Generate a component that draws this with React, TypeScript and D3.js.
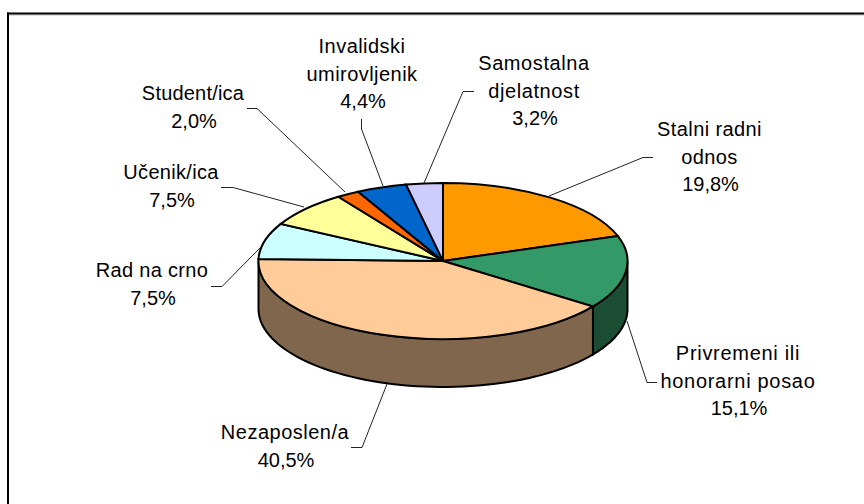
import * as d3 from 'd3';

const categories = [
  'Stalni radni odnos',
  'Privremeni ili honorarni posao',
  'Nezaposlen/a',
  'Rad na crno',
  'Učenik/ica',
  'Student/ica',
  'Invalidski umirovljenik',
  'Samostalna djelatnost',
];
const values = [19.8, 15.1, 40.5, 7.5, 7.5, 2.0, 4.4, 3.2];
const colors = ['#FF9900', '#339966', '#FFCC99', '#CCFFFF', '#FFFF99', '#FF6600', '#0066CC', '#CCCCFF'];
const sideColors = ['#805000', '#1A4D33', '#80664D', '#668080', '#80804D', '#803300', '#003366', '#666680'];
const labelLines = [
  ['Stalni radni', 'odnos'],
  ['Privremeni ili', 'honorarni posao'],
  ['Nezaposlen/a'],
  ['Rad na crno'],
  ['Učenik/ica'],
  ['Student/ica'],
  ['Invalidski', 'umirovljenik'],
  ['Samostalna', 'djelatnost'],
];
const percentLabels = ['19,8%', '15,1%', '40,5%', '7,5%', '7,5%', '2,0%', '4,4%', '3,2%'];

const cx = 443;
const cy = 261;
const rx = 184.5;
const ry = 78;
const depth = 48;
const lineGap = 27.5;

// centre x and first baseline of each label
const labelPos = [
  [709.5, 136],
  [738, 360],
  [285, 439],
  [152, 277],
  [171, 179],
  [193, 100],
  [362, 53],
  [534, 70],
];
const nameSpacing = [0.4, 0.7, 0.5, 0.3, 0.3, 0.2, 0.45, 0.6];
const leaders = [
  [[653, 157.5], [643, 157.5], [549, 196]],
  [[657, 382.5], [647, 382.5], [627, 321]],
  [[351, 447.5], [362, 447.5], [387, 384]],
  [[211, 286.5], [222, 286.5], [261, 247]],
  [[221, 187.5], [233, 187.5], [304, 207]],
  [[247, 108.5], [257, 108.5], [345, 192]],
  [[361.5, 119], [361.5, 129], [383, 186]],
  [[474, 91.5], [463, 91.5], [424, 183]],
];

const pieGen = d3.pie<number>().sort(null).value((d) => d);
const arcs = pieGen(values);

const px = (a: number) => cx + rx * Math.sin(a);
const py = (a: number) => cy - ry * Math.cos(a);

const topArc = d3.arc<d3.PieArcDatum<number>>().innerRadius(0).outerRadius(1);
const leaderLine = d3.line();

function sidePath(a0: number, a1: number) {
  const start = Math.max(a0, Math.PI / 2);
  const end = Math.min(a1, (3 * Math.PI) / 2);
  if (end <= start) return null;
  const steps = d3.range(0, 61).map((i) => start + ((end - start) * i) / 60);
  const top = steps.map((a) => [px(a), py(a)] as [number, number]);
  const bottom = steps.map((a) => [px(a), py(a) + depth] as [number, number]).reverse();
  return d3.line()([...top, ...bottom]) + 'Z';
}

export default function App() {
  return (
    <svg
      width={864}
      height={504}
      style={{ position: 'absolute', left: 0, top: 0 }}
      fontFamily="'Liberation Sans', Arial, sans-serif"
    >
      <rect x={0} y={0} width={864} height={504} fill="#fff" />
      {/* frame: only top and left edges are in the picture */}
      <line x1={7} y1={15} x2={864} y2={15} stroke="#bbb" strokeWidth={1} />
      <line x1={7} y1={13.5} x2={864} y2={13.5} stroke="#000" strokeWidth={2} />
      <line x1={8} y1={12.5} x2={8} y2={504} stroke="#000" strokeWidth={2} />

      {arcs.map((d, i) => {
        const p = sidePath(d.startAngle, d.endAngle);
        return p ? <path key={i} d={p} fill={sideColors[i]} stroke="#000" strokeWidth={2} /> : null;
      })}

      <g transform={`translate(${cx},${cy}) scale(${rx},${ry})`}>
        {arcs.map((d, i) => (
          <path
            key={categories[i]}
            d={topArc(d) ?? ''}
            fill={colors[i]}
            stroke="#000"
            strokeWidth={2}
            vectorEffect="non-scaling-stroke"
          />
        ))}
      </g>

      {leaders.map((pts, i) => (
        <path key={i} d={leaderLine(pts as [number, number][]) ?? ''} fill="none" stroke="#222" strokeWidth={1} />
      ))}

      {labelLines.map((lines, i) => (
        <text key={i} textAnchor="middle" fontSize={20} fill="#000">
          {lines.map((t, j) => (
            <tspan key={j} x={labelPos[i][0]} y={labelPos[i][1] + j * lineGap} letterSpacing={nameSpacing[i]}>
              {t}
            </tspan>
          ))}
          <tspan x={labelPos[i][0] + 1} y={labelPos[i][1] + lines.length * lineGap}>
            {percentLabels[i]}
          </tspan>
        </text>
      ))}
    </svg>
  );
}
